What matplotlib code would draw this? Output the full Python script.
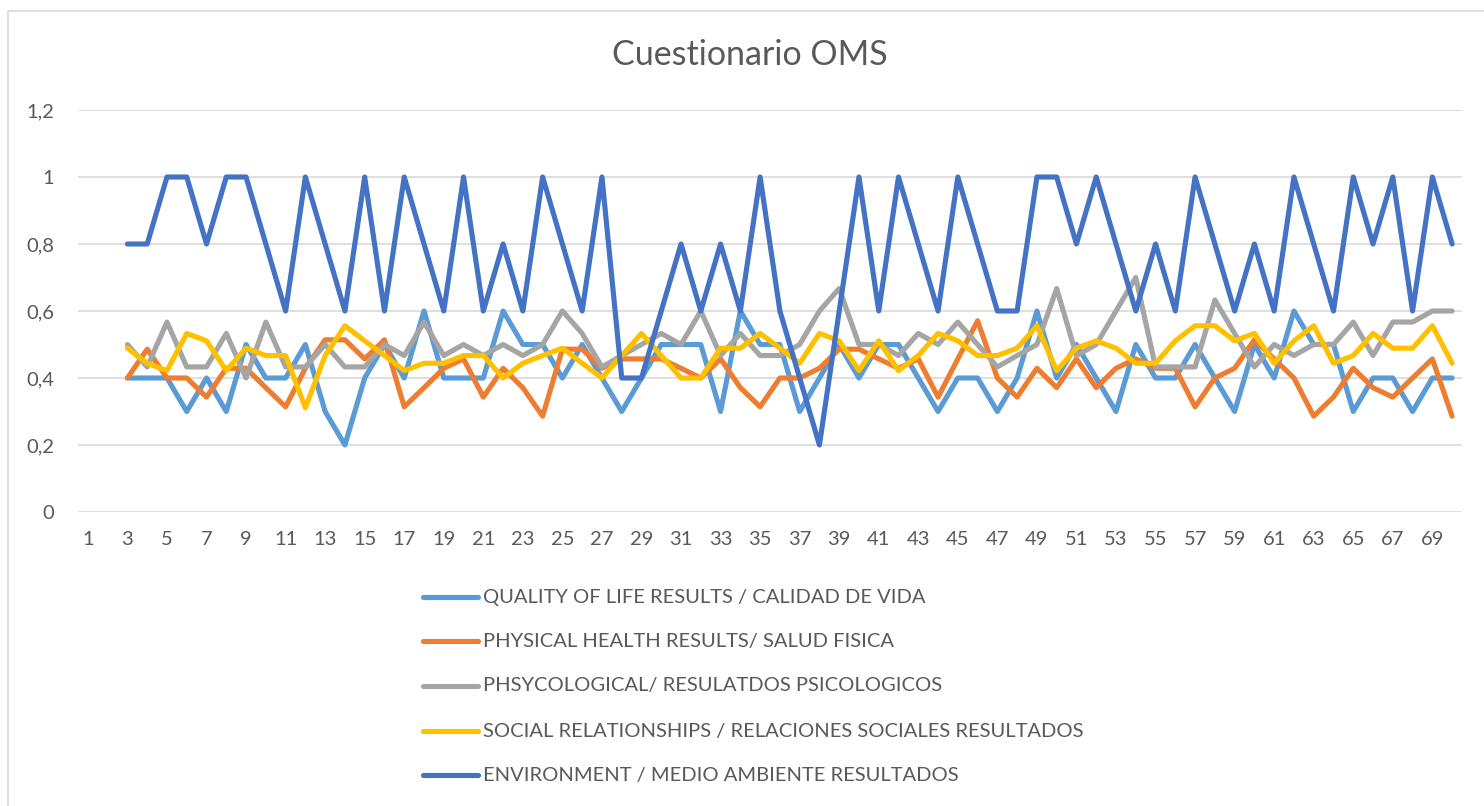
import numpy as np
import matplotlib.pyplot as plt
from matplotlib.lines import Line2D
from matplotlib.patches import Rectangle

plt.rcParams['font.family'] = ['Lato', 'DejaVu Sans']

# categories 1..70, data starts at row 3
categories = list(range(1, 71))
x = np.arange(3, 71)

quality = [0.4, 0.4, 0.4, 0.3, 0.4, 0.3, 0.5, 0.4, 0.4, 0.5,
           0.3, 0.2, 0.4, 0.5, 0.4, 0.6, 0.4, 0.4, 0.4, 0.6,
           0.5, 0.5, 0.4, 0.5, 0.4, 0.3, 0.4, 0.5, 0.5, 0.5,
           0.3, 0.6, 0.5, 0.5, 0.3, 0.4, 0.5, 0.4, 0.5, 0.5,
           0.4, 0.3, 0.4, 0.4, 0.3, 0.4, 0.6, 0.4, 0.5, 0.4,
           0.3, 0.5, 0.4, 0.4, 0.5, 0.4, 0.3, 0.5, 0.4, 0.6,
           0.5, 0.5, 0.3, 0.4, 0.4, 0.3, 0.4, 0.4]

physical = [0.4, 0.486, 0.4, 0.4, 0.343, 0.429, 0.429, 0.371, 0.314, 0.429,
            0.514, 0.514, 0.457, 0.514, 0.314, 0.371, 0.429, 0.457, 0.343, 0.429,
            0.371, 0.286, 0.486, 0.486, 0.429, 0.457, 0.457, 0.457, 0.429, 0.4,
            0.457, 0.371, 0.314, 0.4, 0.4, 0.429, 0.486, 0.486, 0.457, 0.429,
            0.457, 0.343, 0.457, 0.571, 0.4, 0.343, 0.429, 0.371, 0.457, 0.371,
            0.429, 0.457, 0.429, 0.429, 0.314, 0.4, 0.429, 0.514, 0.457, 0.4,
            0.286, 0.343, 0.429, 0.371, 0.343, 0.4, 0.457, 0.286]

psycho = [0.5, 0.433, 0.567, 0.433, 0.433, 0.533, 0.4, 0.567, 0.433, 0.433,
          0.5, 0.433, 0.433, 0.5, 0.467, 0.567, 0.467, 0.5, 0.467, 0.5,
          0.467, 0.5, 0.6, 0.533, 0.433, 0.467, 0.5, 0.533, 0.5, 0.6,
          0.467, 0.533, 0.467, 0.467, 0.5, 0.6, 0.667, 0.5, 0.5, 0.467,
          0.533, 0.5, 0.567, 0.5, 0.433, 0.467, 0.5, 0.667, 0.467, 0.5,
          0.6, 0.7, 0.433, 0.433, 0.433, 0.633, 0.533, 0.433, 0.5, 0.467,
          0.5, 0.5, 0.567, 0.467, 0.567, 0.567, 0.6, 0.6]

social = [0.489, 0.444, 0.422, 0.533, 0.511, 0.422, 0.489, 0.467, 0.467, 0.311,
          0.467, 0.556, 0.511, 0.467, 0.422, 0.444, 0.444, 0.467, 0.467, 0.4,
          0.444, 0.467, 0.489, 0.444, 0.4, 0.467, 0.533, 0.467, 0.4, 0.4,
          0.489, 0.489, 0.533, 0.489, 0.444, 0.533, 0.511, 0.422, 0.511, 0.422,
          0.467, 0.533, 0.511, 0.467, 0.467, 0.489, 0.556, 0.422, 0.489, 0.511,
          0.489, 0.444, 0.444, 0.511, 0.556, 0.556, 0.511, 0.533, 0.444, 0.511,
          0.556, 0.444, 0.467, 0.533, 0.489, 0.489, 0.556, 0.444]

environment = [0.8, 0.8, 1, 1, 0.8, 1, 1, 0.8, 0.6, 1,
               0.8, 0.6, 1, 0.6, 1, 0.8, 0.6, 1, 0.6, 0.8,
               0.6, 1, 0.8, 0.6, 1, 0.4, 0.4, 0.6, 0.8, 0.6,
               0.8, 0.6, 1, 0.6, 0.4, 0.2, 0.6, 1, 0.6, 1,
               0.8, 0.6, 1, 0.8, 0.6, 0.6, 1, 1, 0.8, 1,
               0.8, 0.6, 0.8, 0.6, 1, 0.8, 0.6, 0.8, 0.6, 1,
               0.8, 0.6, 1, 0.8, 1, 0.6, 1, 0.8]

labels = ['QUALITY OF LIFE RESULTS / CALIDAD DE VIDA',
          'PHYSICAL HEALTH RESULTS/ SALUD FISICA',
          'PHSYCOLOGICAL/ RESULATDOS PSICOLOGICOS',
          'SOCIAL RELATIONSHIPS / RELACIONES SOCIALES RESULTADOS',
          'ENVIRONMENT / MEDIO AMBIENTE RESULTADOS']
colors = ['#5B9BD5', '#ED7D31', '#A5A5A5', '#FFC000', '#4472C4']
series = [quality, physical, psycho, social, environment]

y_ticks = [0, 0.2, 0.4, 0.6, 0.8, 1.0, 1.2]
y_tick_labels = ['0', '0,2', '0,4', '0,6', '0,8', '1', '1,2']

W, H = 1484, 806
fig = plt.figure(figsize=(W / 100, H / 100), dpi=100)
ax = fig.add_axes([78 / W, 1 - 512 / H, (1462 - 78) / W, (512 - 110) / H])

for vals, col in zip(series, colors):
    ax.plot(x, vals, color=col, linewidth=3.7, solid_joinstyle='round',
            solid_capstyle='round', zorder=3)

ax.set_xlim(0.5, 70.5)
ax.set_ylim(0, 1.2)
ax.set_yticks(y_ticks)
ax.set_yticklabels(y_tick_labels)
ax.set_xticks(categories[::2])
ax.set_xticklabels([str(c) for c in categories[::2]])
ax.grid(axis='y', color='#D9D9D9', linewidth=1.2, zorder=0)
ax.tick_params(axis='both', length=0, labelsize=14.5, colors='#595959')
ax.tick_params(axis='x', pad=14)
ax.tick_params(axis='y', pad=17)
for s in ax.spines.values():
    s.set_visible(False)

fig.text(749.5 / W, 1 - 55 / H, 'Cuestionario OMS', ha='center', va='center',
         fontsize=24.5, color='#595959')

# legend drawn by hand below the plot
row_y = [597, 641, 686, 731, 775]
for lab, col, yy in zip(labels, colors, row_y):
    fig.add_artist(Line2D([423 / W, 478 / W], [1 - yy / H, 1 - yy / H],
                          color=col, linewidth=3.7, solid_capstyle='round'))
    fig.text(483 / W, 1 - yy / H, lab, ha='left', va='center',
             fontsize=14.5, color='#595959')

# chart border
fig.add_artist(Rectangle((8 / W, -0.02), 1.0, 1 - 11 / H + 0.02,
                         fill=False, edgecolor='#D9D9D9', linewidth=1.2,
                         transform=fig.transFigure))

fig.savefig('out.png', dpi=100)
